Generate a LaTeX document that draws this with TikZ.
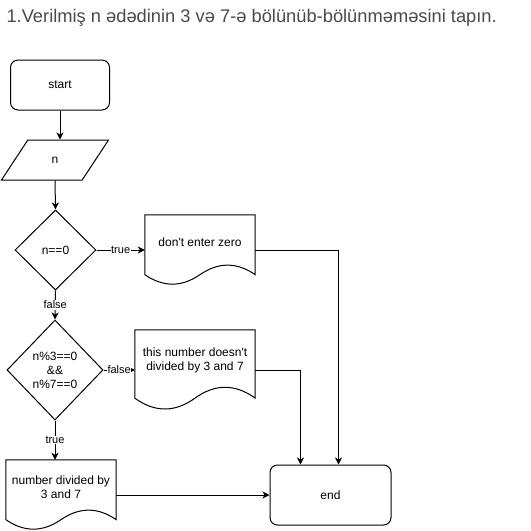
\documentclass[tikz,border=0pt]{standalone}
\usepackage{fontspec}
\setmainfont{Liberation Sans}
\usetikzlibrary{shapes.geometric,arrows.meta,calc}
\definecolor{titlegray}{HTML}{4A4A4A}

% contorno del documento (bordo ondulato in basso)
\newcommand\docline[1]{%
  \draw[line width=1pt] let \p1=(#1.north west), \p2=(#1.south east), \n1={\x2-\x1}, \n2={\y1-\y2} in
  (\p1) -- (\x2,\y1) -- (\x2,{\y2+0.15*\n2})
  .. controls ({\x1+0.8333*\n1},{\y2+0.33*\n2}) and ({\x1+0.6667*\n1},{\y2+0.33*\n2}) .. ({\x1+0.5*\n1},{\y2+0.15*\n2})
  .. controls ({\x1+0.3333*\n1},{\y2-0.03*\n2}) and ({\x1+0.1667*\n1},{\y2-0.03*\n2}) .. (\x1,{\y2+0.15*\n2}) -- cycle;}

\begin{document}
\begin{tikzpicture}[x=1pt,y=-1pt,
  box/.style={draw, line width=1pt, rounded corners=7.5pt, font=\fontsize{12}{14}\selectfont},
  iobox/.style={trapezium, trapezium left angle=63.4, trapezium right angle=116.6, trapezium stretches=true,
    draw, line width=1pt, inner sep=0pt, font=\fontsize{12}{14}\selectfont},
  test/.style={diamond, draw, line width=1pt, inner sep=0pt, align=center, font=\fontsize{12}{14}\selectfont},
  docbox/.style={inner sep=0pt, align=center, font=\fontsize{12}{14}\selectfont},
  flow/.style={line width=1pt, -{Stealth[length=7pt,width=7pt,inset=2pt]}},
  lbl/.style={fill=white, inner sep=0.5pt, font=\fontsize{11}{13}\selectfont}]
  \useasboundingbox (0,0) rectangle (531,531);

  \node[anchor=west, text=titlegray, font=\fontsize{18.3}{21}\selectfont] (title) at (3,18)
    {1.Verilmiş n ədədinin 3 və 7-ə bölünüb-bölünməməsini tapın.};

  \node[box, minimum width=99pt, minimum height=50pt] (start) at (60,85) {start};
  \node[iobox, minimum width=107pt, minimum height=40pt] (inp) at (55,160) {n};
  \node[test, minimum width=81pt, minimum height=80pt] (zerotest) at (55.5,250) {n==0};
  \node[test, minimum width=96pt, minimum height=100pt] (divtest) at (55,370) {n\%3==0\\\&\&\\n\%7==0};

  \node[docbox, minimum width=110pt, minimum height=70pt, text depth=16pt] (zeromsg) at (200,250)
    {don\textquotesingle t enter zero};
  \docline{zeromsg}
  \node[docbox, minimum width=120pt, minimum height=80pt, text depth=22pt] (nodivmsg) at (195,370)
    {this number doesn\textquotesingle t\\divided by 3 and 7};
  \docline{nodivmsg}
  \node[docbox, minimum width=110pt, minimum height=70pt, text depth=16pt] (divmsg) at (61,495)
    {number divided by\\3 and 7};
  \docline{divmsg}

  \node[box, minimum width=121pt, minimum height=60pt] (stop) at (330.5,495) {end};

  \draw[flow] (start.south) -- (start.south |- inp.north);
  \draw[flow] (inp.south) -- (zerotest.north);
  \draw[flow] (zerotest.east) -- node[lbl]{true} (zeromsg.west);
  \draw[flow] (zerotest.south) -- node[lbl]{false} (divtest.north);
  \draw[flow] (divtest.east) -- node[lbl]{false} (nodivmsg.west);
  \draw[flow] (divtest.south) -- node[lbl]{true} (divtest.south |- divmsg.north);
  \draw[flow] (zeromsg.east) -| ([xshift=8pt]stop.north);
  \draw[flow] (nodivmsg.east) -| ([xshift=-30pt]stop.north);
  \draw[flow] (divmsg.east) -- (stop.west);
\end{tikzpicture}
\end{document}
